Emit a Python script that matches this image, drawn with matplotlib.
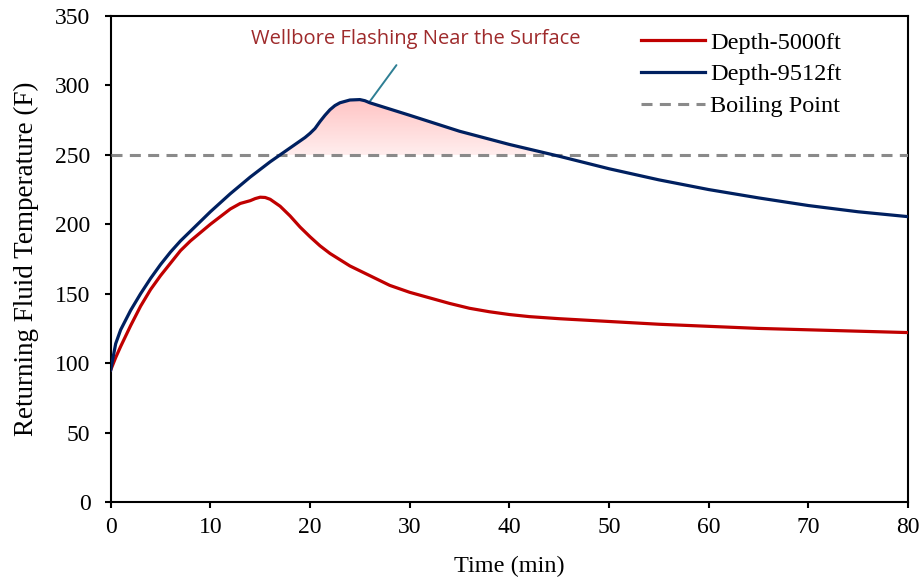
import matplotlib

matplotlib.use("Agg")
import matplotlib.pyplot as plt
import numpy as np

# time (min) and returning fluid temperature (F)
t_deep = [0, 0.5, 1, 1.5, 2, 3, 4, 5, 6, 7, 8, 10, 12, 14, 16, 18, 19, 19.5,
          20, 20.5, 21, 21.5, 22, 22.5, 23, 24, 25, 25.5, 26, 28, 30, 35, 40,
          45, 50, 55, 60, 65, 70, 75, 80]
T_deep = [95, 114, 124, 131, 138, 150, 161, 171, 180, 188, 195, 209, 222,
          234, 245, 255, 260, 262.5, 265.5, 269, 274, 278.5, 282.5, 285.5,
          287.5, 289.5, 289.8, 289, 287.5, 283, 278.5, 267, 257.5, 249, 240,
          232, 225, 219, 213.5, 209, 205.5]

t_shallow = [0, 0.5, 1, 2, 3, 4, 5, 6, 7, 8, 10, 12, 13, 14, 14.5, 15, 15.5,
             16, 17, 18, 19, 20, 21, 22, 24, 26, 28, 30, 32, 34, 36, 38, 40,
             42, 45, 50, 55, 60, 65, 70, 75, 80]
T_shallow = [95, 104, 112, 127, 141, 153, 163, 172, 181, 188, 200, 211, 215,
             217, 218.5, 219.5, 219.3, 218, 213, 206, 198, 191, 184.5, 179,
             170, 163, 156, 151, 147, 143, 139.5, 137, 135, 133.5, 132, 130,
             128, 126.5, 125, 124, 123, 122]

boiling_point = 250
labels = ["Depth-5000ft", "Depth-9512ft", "Boiling Point"]
note = "Wellbore Flashing Near the Surface"

plt.rcParams["font.family"] = ["Liberation Serif", "DejaVu Serif"]

fig = plt.figure(figsize=(9.24, 5.82), dpi=100)
ax = fig.add_axes([0.1198, 0.1375, 0.8629, 0.835])

ax.plot(t_shallow, T_shallow, color="#c00000", lw=2.3, label=labels[0], zorder=4)
ax.plot(t_deep, T_deep, color="#002060", lw=2.3, label=labels[1], zorder=5)
ax.axhline(boiling_point, color="#8a8a8a", lw=2.2, ls=(0, (3.6, 2.4)),
           label=labels[2], zorder=3)

# gradient shading where the deep well is above boiling
td = np.array(t_deep, dtype=float)
Td = np.array(T_deep, dtype=float)
poly = ax.fill_between(td, Td, boiling_point, where=Td >= boiling_point,
                       interpolate=True, color="none", lw=0)
grad = np.linspace(0, 1, 256).reshape(-1, 1)
cmap = matplotlib.colors.LinearSegmentedColormap.from_list(
    "flash", ["#ffeeee", "#ffc4c4"])
img = ax.imshow(grad, cmap=cmap, aspect="auto", origin="lower",
                extent=[0, 80, boiling_point, max(T_deep)], zorder=2)
img.set_clip_path(poly.get_paths()[0], transform=ax.transData)

ax.annotate(note, xy=(25.9, 287.5), xytext=(30.6, 333.5),
            ha="center", va="center", color="#9e2a2b", fontsize=14.5,
            family=["Open Sans", "DejaVu Sans"],
            arrowprops=dict(arrowstyle="-", color="#2e7f94", lw=1.4,
                            shrinkA=12, shrinkB=0))

ax.set_xlim(0, 80)
ax.set_ylim(0, 350)
ax.set_xticks(range(0, 81, 10))
ax.set_yticks(range(0, 351, 50))
ax.set_xlabel("Time (min)", fontsize=17.5, labelpad=13)
ax.set_ylabel("Returning Fluid Temperature (F)", fontsize=19.5, labelpad=12)
ax.tick_params(direction="out", length=4.5, width=1.5, labelsize=17)
ax.tick_params(axis="x", pad=6)
ax.tick_params(axis="y", pad=10)
for sp in ax.spines.values():
    sp.set_linewidth(1.5)

ax.legend(loc="upper left", bbox_to_anchor=(0.665, 0.968), frameon=False,
          fontsize=17.5, handlelength=2.65, handletextpad=0.2,
          labelspacing=0.4, borderpad=0, borderaxespad=0)

fig.savefig("out.png", dpi=100)
